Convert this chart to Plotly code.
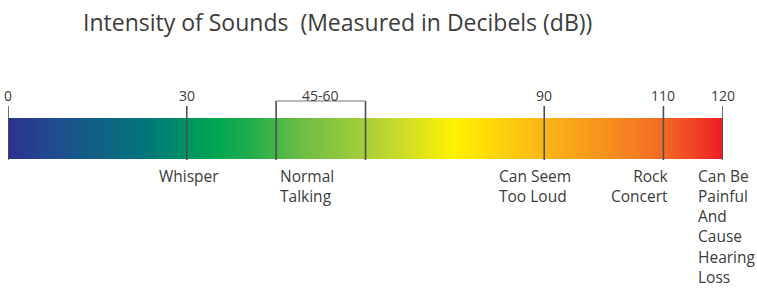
import numpy as np
import plotly.graph_objects as go

# ---- data ----
title_text = "Intensity of Sounds  (Measured in Decibels (dB))"
tick_values = [0, 30, 90, 110, 120]
tick_labels = ["0", "30", "90", "110", "120"]
range_low, range_high = 45, 60
range_label = "45-60"
label_values = [30, 45, 90, 110, 120]
label_texts = ["Whisper", "Normal<br>Talking", "Can Seem<br>Too Loud",
               "Rock<br>Concert", "Can Be<br>Painful<br>And<br>Cause<br>Hearing<br>Loss"]
db_min, db_max = 0, 120

# gradient colour stops (dB, colour)
stop_db = [0, 8.7, 23.8, 34.7, 40.6, 49, 60, 65.8, 75, 82.5, 89.3, 99.3, 110, 120]
stop_colors = ["#2e3192", "#1e4f8c", "#00787a", "#00a651", "#1fad4b", "#6bbd45",
               "#a6ce39", "#cbdb2a", "#fff200", "#fed20b", "#fbb817", "#f7941d",
               "#f26b24", "#ed1c24"]

# ---- layout constants ----
BAR_TOP, BAR_BOT = 118, 159
LINE_TOP = 106
BRACKET_Y = 101
TICK_LABEL_Y = 95
BELOW_Y = 163
FONT = "Open Sans"
TXT = "#3c3c3c"

n = 480
edges = np.linspace(db_min, db_max, n + 1)
centers = (edges[:-1] + edges[1:]) / 2
colorscale = [[(d - db_min) / (db_max - db_min), c] for d, c in zip(stop_db, stop_colors)]

fig = go.Figure()
fig.add_trace(go.Heatmap(
    x=edges, y=[BAR_TOP, BAR_BOT], z=[centers],
    colorscale=colorscale, zmin=db_min, zmax=db_max,
    showscale=False, hoverinfo="skip"))

# tick lines
lx, ly = [], []
for v in tick_values:
    lx += [v, v, None]
    ly += [LINE_TOP, BAR_BOT + 1, None]
for v in (range_low, range_high):
    lx += [v, v, None]
    ly += [BRACKET_Y, BAR_BOT + 1, None]
fig.add_trace(go.Scatter(x=lx, y=ly, mode="lines",
                         line=dict(color="#4d4d4d", width=1.6), hoverinfo="skip"))
# bracket
fig.add_trace(go.Scatter(x=[range_low, range_high], y=[BRACKET_Y, BRACKET_Y], mode="lines",
                         line=dict(color="#777777", width=1), hoverinfo="skip"))

ann = []
for v, t in zip(tick_values, tick_labels):
    ann.append(dict(x=v, y=TICK_LABEL_Y, text=t, showarrow=False, xanchor="center",
                    yanchor="middle", font=dict(family=FONT, size=14, color=TXT)))
ann.append(dict(x=(range_low + range_high) / 2, y=TICK_LABEL_Y, text=range_label, showarrow=False,
                xanchor="center", yanchor="middle", font=dict(family=FONT, size=14, color=TXT)))

anchors = ["center", "left", "left", "right", "left"]
shifts = [2, 2, -47, 7, -27]
aligns = ["center", "left", "left", "right", "left"]
for v, t, a, s, al in zip(label_values, label_texts, anchors, shifts, aligns):
    ann.append(dict(x=v, y=BELOW_Y, text=t, showarrow=False, xanchor=a, yanchor="top",
                    xshift=s, align=al, font=dict(family=FONT, size=15.5, color=TXT)))

ann.append(dict(x=0, y=22, xref="paper", text=title_text, showarrow=False, xanchor="left",
                yanchor="middle", xshift=73, font=dict(family=FONT, size=23, color=TXT)))

fig.update_layout(
    width=757, height=291, margin=dict(l=8, r=34, t=0, b=0),
    paper_bgcolor="white", plot_bgcolor="white", showlegend=False,
    xaxis=dict(range=[db_min, db_max], visible=False, fixedrange=True),
    yaxis=dict(range=[291, 0], visible=False, fixedrange=True),
    annotations=ann)

fig.write_html("out.html", config={"displayModeBar": False},
               post_script="document.body.style.margin='0px';document.body.style.overflow='hidden';")
